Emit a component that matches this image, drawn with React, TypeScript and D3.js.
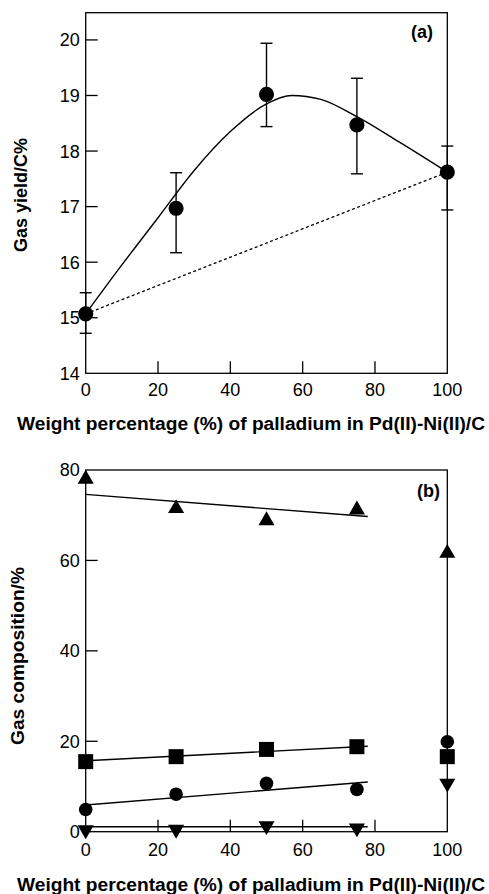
import React from 'react';
import * as d3 from 'd3';

// panel (a): gas yield vs Pd weight percentage
const pdPct = [0, 25, 50, 75, 100];
const gasYield = [15.07, 16.97, 19.02, 18.47, 17.62];
const yieldLow = [14.72, 16.17, 18.44, 17.59, 16.94];
const yieldHigh = [15.45, 17.61, 19.94, 19.31, 18.09];
// fitted smooth curve
const curveX = [0, 10, 20, 30, 40, 50, 57, 65, 75, 87, 100];
const curveY = [15.07, 15.95, 16.8, 17.65, 18.35, 18.85, 19.0, 18.93, 18.62, 18.15, 17.62];
// straight additive reference line
const dashX = [0, 100];
const dashY = [15.07, 17.62];

// panel (b): gas composition
const triUp = [78.0, 71.5, 68.8, 71.2, 61.6];
const squares = [15.5, 16.6, 18.2, 18.8, 16.6];
const circles = [4.9, 8.3, 10.7, 9.35, 19.9];
const triDown = [0.4, 0.5, 1.3, 0.8, 10.7];
const fitX = [0, 78];
const triUpFit = [74.6, 69.7];
const squareFit = [15.7, 18.9];
const circleFit = [5.9, 11.0];
const triDownFit = [1.1, 1.1];

const xTickLabels = [0, 20, 40, 60, 80, 100];
const xInnerTicks = [20, 40, 60, 80];
const aYLabels = [14, 15, 16, 17, 18, 19, 20];
const aYTicks = [15, 16, 17, 18, 19, 20];
const bYLabels = [0, 20, 40, 60, 80];
const bYTicks = [20, 40, 60];

const xTitle = 'Weight percentage (%) of palladium in Pd(II)-Ni(II)/C';
const font = '"Liberation Sans", Arial, Helvetica, sans-serif';
const ink = '#000';

const W = 489;
const H = 894;
const left = 85.7;
const right = 447.3;
const tickLen = 12;

const x = d3.scaleLinear().domain([0, 100]).range([left, right]);
const yA = d3.scaleLinear().domain([14, 20.49]).range([373.3, 12.7]);
const yB = d3.scaleLinear().domain([0, 80]).range([831.7, 470]);

const symCircleA = d3.symbol(d3.symbolCircle, 180)();
const symCircleB = d3.symbol(d3.symbolCircle, 145)();
const symSquare = d3.symbol(d3.symbolSquare, 225)();
const symTri = d3.symbol(d3.symbolTriangle, 112)();

const linePath = (xs: number[], ys: number[], ys2: d3.ScaleLinear<number, number>, curve = d3.curveLinear) =>
  d3.line<number>().x((_, i) => x(xs[i])).y((v) => ys2(v)).curve(curve)(ys) || '';

const Frame = ({ y }: { y: d3.ScaleLinear<number, number> }) => {
  const [y0, y1] = y.range();
  return (
    <rect x={left} y={y1} width={right - left} height={y0 - y1} fill="none" stroke={ink} strokeWidth={1.3} />
  );
};

const App = () => {
  const aBottom = yA.range()[0];
  const bBottom = yB.range()[0];

  return (
    <div style={{ position: 'absolute', left: 0, top: 0 }}>
      <svg width={W} height={H} style={{ display: 'block', background: '#fff' }} fontFamily={font}>
        {/* ---------- panel (a) ---------- */}
        <Frame y={yA} />
        {xInnerTicks.map((t) => (
          <line key={'ax' + t} x1={x(t)} x2={x(t)} y1={aBottom} y2={aBottom - tickLen} stroke={ink} strokeWidth={1.3} />
        ))}
        {aYTicks.map((t) => (
          <line key={'ay' + t} x1={left} x2={left + tickLen} y1={yA(t)} y2={yA(t)} stroke={ink} strokeWidth={1.3} />
        ))}
        {xTickLabels.map((t) => (
          <text key={'axl' + t} x={x(t)} y={aBottom + 23} textAnchor="middle" fontSize={18}>
            {t}
          </text>
        ))}
        {aYLabels.map((t) => (
          <text key={'ayl' + t} x={left - 6} y={yA(t)} dy="0.36em" textAnchor="end" fontSize={18}>
            {t}
          </text>
        ))}
        <path d={linePath(dashX, dashY, yA)} fill="none" stroke={ink} strokeWidth={1.3} strokeDasharray="3,2.5" />
        <path d={linePath(curveX, curveY, yA, d3.curveMonotoneX)} fill="none" stroke={ink} strokeWidth={1.4} />
        {pdPct.map((p, i) => (
          <g key={'err' + p} stroke={ink} strokeWidth={1.4}>
            <line x1={x(p)} x2={x(p)} y1={yA(yieldLow[i])} y2={yA(yieldHigh[i])} />
            <line x1={x(p) - 6} x2={x(p) + 6} y1={yA(yieldLow[i])} y2={yA(yieldLow[i])} />
            <line x1={x(p) - 6} x2={x(p) + 6} y1={yA(yieldHigh[i])} y2={yA(yieldHigh[i])} />
          </g>
        ))}
        {pdPct.map((p, i) => (
          <path key={'pa' + p} d={symCircleA} transform={`translate(${x(p)},${yA(gasYield[i])})`} fill={ink} />
        ))}
        <text x={433} y={38} textAnchor="end" fontSize={18} fontWeight="bold">(a)</text>
        <text x={251} y={429.6} textAnchor="middle" fontSize={17.5} fontWeight="bold" textLength={468} lengthAdjust="spacingAndGlyphs">
          {xTitle}
        </text>
        <text transform="translate(26.5,195) rotate(-90)" textAnchor="middle" fontSize={17.5} fontWeight="bold" textLength={114} lengthAdjust="spacingAndGlyphs">
          Gas yield/C%
        </text>

        {/* ---------- panel (b) ---------- */}
        <Frame y={yB} />
        {xInnerTicks.map((t) => (
          <line key={'bx' + t} x1={x(t)} x2={x(t)} y1={bBottom} y2={bBottom - tickLen} stroke={ink} strokeWidth={1.3} />
        ))}
        {bYTicks.map((t) => (
          <line key={'by' + t} x1={left} x2={left + tickLen} y1={yB(t)} y2={yB(t)} stroke={ink} strokeWidth={1.3} />
        ))}
        {xTickLabels.map((t) => (
          <text key={'bxl' + t} x={x(t)} y={bBottom + 24.5} textAnchor="middle" fontSize={18}>
            {t}
          </text>
        ))}
        {bYLabels.map((t) => (
          <text key={'byl' + t} x={left - 6} y={yB(t)} dy="0.36em" textAnchor="end" fontSize={18}>
            {t}
          </text>
        ))}
        {[triUpFit, squareFit, circleFit, triDownFit].map((f, k) => (
          <path key={'fit' + k} d={linePath(fitX, f, yB)} fill="none" stroke={ink} strokeWidth={1.4} />
        ))}
        {pdPct.map((p, i) => (
          <g key={'pb' + p} fill={ink}>
            <path d={symTri} transform={`translate(${x(p)},${yB(triUp[i])})`} />
            <path d={symSquare} transform={`translate(${x(p)},${yB(squares[i])})`} />
            <path d={symCircleB} transform={`translate(${x(p)},${yB(circles[i])})`} />
            <path d={symTri} transform={`translate(${x(p)},${yB(triDown[i])}) rotate(180)`} />
          </g>
        ))}
        <text x={440} y={497} textAnchor="end" fontSize={18} fontWeight="bold">(b)</text>
        <text x={251} y={891} textAnchor="middle" fontSize={17.5} fontWeight="bold" textLength={468} lengthAdjust="spacingAndGlyphs">
          {xTitle}
        </text>
        <text transform="translate(23.5,656) rotate(-90)" textAnchor="middle" fontSize={17.5} fontWeight="bold" textLength={178} lengthAdjust="spacingAndGlyphs">
          Gas composition/%
        </text>
      </svg>
    </div>
  );
};

export default App;
